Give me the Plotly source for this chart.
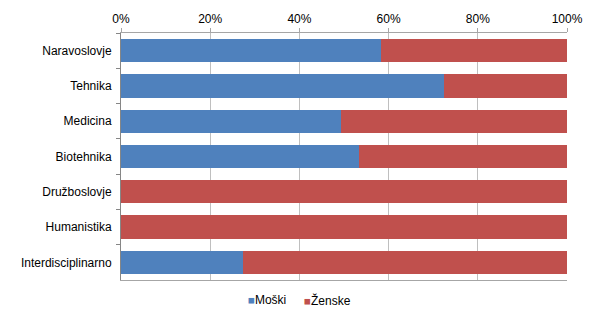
import plotly.graph_objects as go

categories = ["Naravoslovje", "Tehnika", "Medicina", "Biotehnika",
              "Družboslovje", "Humanistika", "Interdisciplinarno"]
moski = [58.2, 72.5, 49.3, 53.3, 0, 0, 27.4]
zenske = [round(100 - v, 1) for v in moski]
tick_vals = [0, 20, 40, 60, 80, 100]
tick_text = ["0%", "20%", "40%", "60%", "80%", "100%"]
series_names = ["Moški", "Ženske"]

blue = "#4f81bd"
red = "#c0504d"
colors = [blue, red]

fig = go.Figure()
for name, vals, col in zip(series_names, [moski, zenske], colors):
    fig.add_trace(go.Bar(y=categories, x=vals, orientation="h", name=name,
                         marker=dict(color=col, line=dict(width=0)), showlegend=False))

# legend drawn as text annotations (small square marker + label)
legend_x = [0.2803, 0.4069]
for name, col, lx in zip(series_names, colors, legend_x):
    fig.add_annotation(
        xref="paper", yref="paper", x=lx, y=-0.081, xanchor="left", yanchor="middle",
        showarrow=False,
        text=f"<span style='color:{col};font-size:11.5px'>■</span>{name}",
        font=dict(size=12, color="#000000"),
    )

fig.update_layout(
    width=595, height=315,
    barmode="stack", bargap=0.34,
    plot_bgcolor="white", paper_bgcolor="white",
    margin=dict(l=121, r=28, t=33, b=35),
    font=dict(family="Liberation Sans, Arial, sans-serif", size=12, color="#000000"),
    showlegend=False,
    xaxis=dict(side="top", range=[0, 100], tickvals=tick_vals, ticktext=tick_text,
               showgrid=True, gridcolor="#bfbfbf", gridwidth=1,
               showline=True, linecolor="#a6a6a6", linewidth=1, mirror=True,
               ticks="outside", ticklen=4, tickcolor="#a6a6a6",
               zeroline=False, fixedrange=True),
    yaxis=dict(categoryorder="array", categoryarray=categories, autorange="reversed",
               showline=True, linecolor="#868686", linewidth=1,
               ticks="outside", ticklen=4, tickcolor="#868686", tickson="boundaries",
               ticklabelstandoff=6, showgrid=False),
)
fig.write_html("out.html")
